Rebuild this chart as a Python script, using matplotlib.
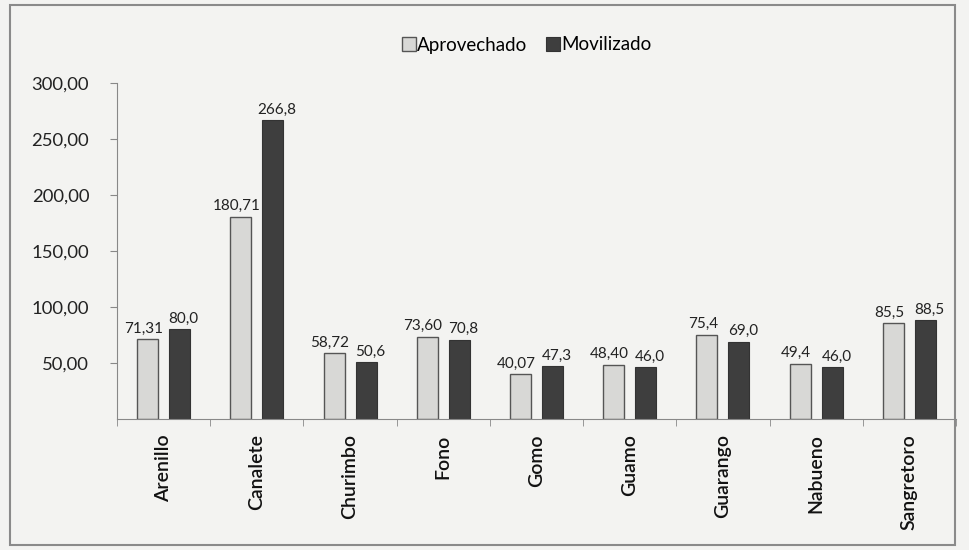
import matplotlib
matplotlib.use("Agg")
import matplotlib.pyplot as plt
import numpy as np
from matplotlib.patches import Rectangle

plt.rcParams['font.family'] = ['Lato', 'DejaVu Sans']

categories = ["Arenillo", "Canalete", "Churimbo", "Fono", "Gomo", "Guamo",
              "Guarango", "Nabueno", "Sangretoro"]
aprovechado = [71.31, 180.71, 58.72, 73.60, 40.07, 48.40, 75.4, 49.4, 85.5]
movilizado = [80.0, 266.8, 50.6, 70.8, 47.3, 46.0, 69.0, 46.0, 88.5]
aprov_labels = ["71,31", "180,71", "58,72", "73,60", "40,07", "48,40", "75,4", "49,4", "85,5"]
movil_labels = ["80,0", "266,8", "50,6", "70,8", "47,3", "46,0", "69,0", "46,0", "88,5"]
yticks = [50, 100, 150, 200, 250, 300]
ytick_labels = ["50,00", "100,00", "150,00", "200,00", "250,00", "300,00"]

bg = "#f3f3f1"
fig = plt.figure(figsize=(9.69, 5.5), dpi=100, facecolor=bg)
ax = fig.add_axes([117/969, 1-419/550, (956-117)/969, (419-83)/550])
ax.set_facecolor(bg)

x = np.arange(len(categories))
w = 0.225
off = 0.172
b1 = ax.bar(x - off, aprovechado, w, color="#d8d8d6", edgecolor="#555555", linewidth=1.0,
            label="Aprovechado")
b2 = ax.bar(x + off, movilizado, w, color="#3e3e3e", edgecolor="#333333", linewidth=0.8,
            label="Movilizado")

for xi, v, lab in zip(x - off, aprovechado, aprov_labels):
    ax.annotate(lab, (xi, v), xytext=(-3, 2.5), textcoords="offset points",
                ha="center", va="bottom", fontsize=11, color="#222222")
for xi, v, lab in zip(x + off, movilizado, movil_labels):
    ax.annotate(lab, (xi, v), xytext=(3, 2.5), textcoords="offset points",
                ha="center", va="bottom", fontsize=11, color="#222222")

ax.set_xlim(-0.5, len(categories) - 0.5)
ax.set_ylim(0, 300)
ax.set_yticks(yticks)
ax.set_yticklabels(ytick_labels, fontsize=13.3, color="#222222")
ax.set_xticks(x)
ax.set_xticklabels(categories, rotation=90, fontsize=14, color="#111111", fontweight="semibold")
ax.tick_params(axis='x', length=0, pad=11)
ax.set_xticks(np.arange(len(categories) + 1) - 0.5, minor=True)
ax.tick_params(axis='x', which='minor', length=5, color="#888888")
ax.tick_params(axis='y', length=5, color="#888888", pad=15)

for s in ["top", "right"]:
    ax.spines[s].set_visible(False)
ax.spines["left"].set_color("#888888")
ax.spines["bottom"].set_color("#888888")

leg = fig.legend(handles=[b1, b2], labels=["Aprovechado", "Movilizado"], loc="center",
                 bbox_to_anchor=(527/969, 1-45/550), ncol=2, frameon=False, fontsize=13.5,
                 handlelength=0.7, handleheight=0.7, handletextpad=0.1, columnspacing=1.0)

fig.patches.append(Rectangle((10/969, 5/550), (955-10)/969, (545-5)/550,
                             transform=fig.transFigure, fill=False,
                             edgecolor="#8a8a8a", linewidth=1.5))

fig.savefig("out.png", dpi=100, facecolor=bg)
